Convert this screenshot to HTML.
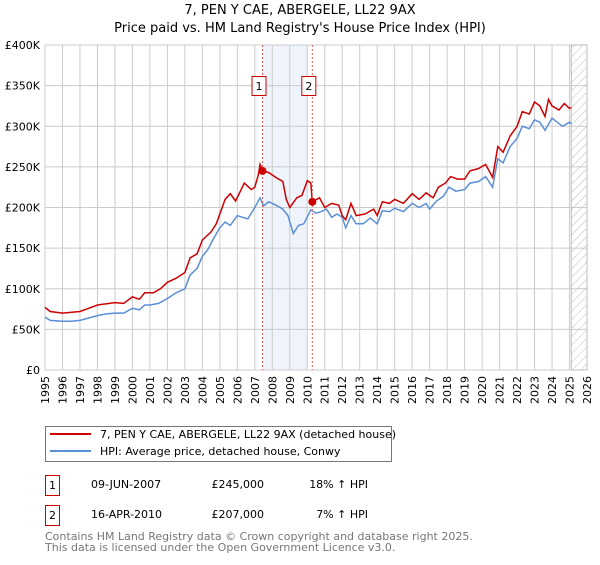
<!DOCTYPE html>
<html><head><meta charset="utf-8"><style>
body{margin:0;width:600px;height:560px;background:#fff;font-family:"Liberation Sans","DejaVu Sans",sans-serif;overflow:hidden}
svg text{font-family:"DejaVu Sans","Liberation Sans",sans-serif}
</style></head><body>
<svg id="c" width="600" height="560">
<text x="300" y="14" text-anchor="middle" font-size="13">7, PEN Y CAE, ABERGELE, LL22 9AX</text>
<text x="300" y="32" text-anchor="middle" font-size="13">Price paid vs. HM Land Registry's House Price Index (HPI)</text>
<g id="grid"></g><g id="plot"></g>
<g>
<rect x="45.5" y="426.5" width="346" height="35" fill="#fff" stroke="#777"/>
<line x1="50" y1="434" x2="91" y2="434" stroke="#cc0000" stroke-width="2"/>
<text x="100" y="438" font-size="11">7, PEN Y CAE, ABERGELE, LL22 9AX (detached house)</text>
<line x1="50" y1="451" x2="91" y2="451" stroke="#5b8fd6" stroke-width="2"/>
<text x="100" y="455" font-size="11">HPI: Average price, detached house, Conwy</text>
</g>
<g font-size="11">
<rect x="45.5" y="475.5" width="14" height="20" fill="#fff" stroke="#cc0000"/><text x="52.5" y="489" text-anchor="middle">1</text>
<text x="91" y="488">09-JUN-2007</text><text x="264" y="488" text-anchor="end">£245,000</text><text x="368" y="488" text-anchor="end">18% ↑ HPI</text>
<rect x="45.5" y="505.5" width="14" height="20" fill="#fff" stroke="#cc0000"/><text x="52.5" y="519" text-anchor="middle">2</text>
<text x="91" y="518">16-APR-2010</text><text x="264" y="518" text-anchor="end">£207,000</text><text x="368" y="518" text-anchor="end">7% ↑ HPI</text>
</g>
<text x="45" y="540" font-size="11" fill="#777">Contains HM Land Registry data © Crown copyright and database right 2025.</text>
<text x="45" y="551" font-size="11" fill="#777">This data is licensed under the Open Government Licence v3.0.</text>
</svg>
<script>
const yTicks=[0,50,100,150,200,250,300,350,400];
const yTickLabels=["£0","£50K","£100K","£150K","£200K","£250K","£300K","£350K","£400K"];
const years=[];for(let y=1995;y<=2026;y++)years.push(y);
const hpiX=[1995,1995.3,1996,1996.5,1997,1997.5,1998,1998.5,1999,1999.5,2000,2000.4,2000.7,2001,2001.5,2002,2002.5,2003,2003.3,2003.7,2004,2004.3,2004.6,2005,2005.3,2005.6,2006,2006.3,2006.6,2007,2007.3,2007.5,2007.8,2008.2,2008.6,2008.9,2009.2,2009.5,2009.8,2010.2,2010.5,2010.8,2011.1,2011.4,2011.7,2012,2012.2,2012.5,2012.8,2013.2,2013.6,2014,2014.3,2014.7,2015,2015.5,2016,2016.4,2016.8,2017,2017.4,2017.8,2018.1,2018.5,2019,2019.3,2019.8,2020.2,2020.6,2020.9,2021.2,2021.6,2022,2022.3,2022.7,2023,2023.3,2023.6,2024,2024.3,2024.6,2025,2025.1];
const hpiY=[65,61,60,60,61,64,67,69,70,70,76,74,80,80,82,88,95,100,117,125,140,148,160,175,182,178,190,188,186,200,212,202,207,203,198,190,168,178,180,197,193,195,198,188,192,188,175,190,180,180,187,180,196,195,199,195,205,200,205,198,208,214,225,220,222,230,232,238,225,260,255,275,285,300,297,308,305,295,310,305,300,305,303];
const redX=[1995,1995.3,1996,1997,1997.5,1998,1999,1999.5,2000,2000.4,2000.7,2001.2,2001.6,2002,2002.5,2003,2003.3,2003.7,2004,2004.5,2004.8,2005.3,2005.6,2005.9,2006.4,2006.8,2007,2007.2,2007.3,2007.44,2007.8,2008.2,2008.6,2008.8,2009,2009.4,2009.7,2010,2010.2,2010.29,2010.7,2011,2011.4,2011.8,2012,2012.2,2012.5,2012.8,2013.3,2013.8,2014,2014.3,2014.7,2015,2015.5,2016,2016.4,2016.8,2017.2,2017.5,2017.9,2018.2,2018.6,2019,2019.3,2019.8,2020.2,2020.6,2020.9,2021.2,2021.6,2022,2022.3,2022.7,2023,2023.3,2023.6,2023.8,2024,2024.4,2024.7,2025,2025.1];
const redY=[77,72,70,72,76,80,83,82,90,87,95,95,100,108,113,120,138,143,160,170,180,210,217,208,230,222,225,240,253,245,243,237,232,210,200,212,215,233,230,207,212,200,205,203,190,185,205,190,192,198,190,207,205,210,205,217,210,218,212,225,230,238,235,235,245,248,253,237,275,268,288,300,318,315,330,325,312,333,325,320,328,322,323];
const saleX=[2007.44,2010.29];
const saleY=[245,207];
const L=45,R=587,T=45,B=370;
const xs=v=>L+(v-1995)/(2026-1995)*(R-L);
const ys=v=>B-v/400*(B-T);
const NS="http://www.w3.org/2000/svg";
function mk(tag,attrs,parent,txt){const e=document.createElementNS(NS,tag);for(const k in attrs)e.setAttribute(k,attrs[k]);if(txt!==undefined)e.textContent=txt;parent.appendChild(e);return e;}
const g=document.getElementById('grid'),p=document.getElementById('plot');
let band=mk('rect',{x:xs(saleX[0]),y:T,width:xs(2010)-xs(saleX[0]),height:B-T,fill:'#eef3fc'},g);


yTicks.forEach((t,i)=>{
 const l=mk('line',{x1:L,x2:R,y1:ys(t),y2:ys(t),stroke:'#ccc'},g);
 
 
 const tx=mk('text',{x:L-5,y:ys(t)+4,'text-anchor':'end','font-size':'11'},g,yTickLabels[i]);
 
 
});
years.forEach(y=>{
 const l=mk('line',{x1:xs(y),x2:xs(y),y1:T,y2:B,stroke:'#ccc'},g);
 
 
 const tx=mk('text',{x:0,y:0,'text-anchor':'end','font-size':'11',transform:'translate('+(xs(y)+4)+',376) rotate(-90)'},g,String(y));
 
 
});
const defs=mk('defs',{},g);
const pat=mk('pattern',{id:'h',width:6,height:6,patternUnits:'userSpaceOnUse',patternTransform:'rotate(45)'},defs);
mk('line',{x1:0,y1:0,x2:0,y2:6,stroke:'#bbb','stroke-width':1},pat);
const hr=mk('rect',{x:xs(2025.1),y:T,width:R-xs(2025.1),height:B-T,fill:'url(#h)',stroke:'#bbb'},g);


function path(xa,ya){return xa.map((x,i)=>(i?'L':'M')+xs(x).toFixed(1)+','+ys(ya[i]).toFixed(1)).join('');}
const hp=mk('path',{d:path(hpiX,hpiY),fill:'none',stroke:'#5b8fd6','stroke-width':1.5},p);


const rp=mk('path',{d:path(redX,redY),fill:'none',stroke:'#cc0000','stroke-width':1.5},p);


saleX.forEach((x,i)=>{
 const dl=mk('line',{x1:xs(x),x2:xs(x),y1:T,y2:B,stroke:'#e06060','stroke-dasharray':'2,2'},p);
 
 
 const c=mk('circle',{cx:xs(x),cy:ys(saleY[i]),r:4,fill:'#cc0000'},p);
 
 
 const bx=mk('rect',{x:xs(x)-10.5,y:76.5,width:14,height:19,fill:'#fff',stroke:'#cc0000'},p);
 
 
 const t=mk('text',{x:xs(x)-3.5,y:90,'text-anchor':'middle','font-size':'11'},p,String(i+1));
 
 
});
</script>
</body></html>
